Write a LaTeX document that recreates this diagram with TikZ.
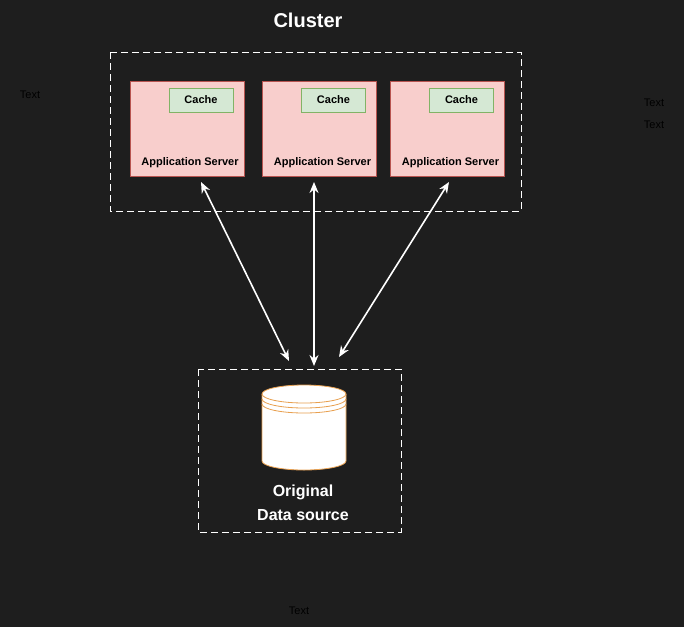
\documentclass[tikz,border=0pt]{standalone}
\usepackage{fontspec}
\setmainfont{Liberation Sans}
\usetikzlibrary{arrows.meta}
\definecolor{bgdark}{RGB}{30,30,30}
\definecolor{srvfill}{HTML}{F8CECC}
\definecolor{srvline}{HTML}{B85450}
\definecolor{cachefill}{HTML}{D5E8D4}
\definecolor{cacheline}{HTML}{82B366}
\definecolor{dborange}{HTML}{E8A050}
\tikzset{
  server/.style={draw=srvline, fill=srvfill, minimum width=114pt, minimum height=95pt},
  cache/.style={draw=cacheline, fill=cachefill, minimum width=64pt, minimum height=24pt,
    font=\bfseries\fontsize{11}{13}\selectfont},
  srvlabel/.style={font=\bfseries\fontsize{11}{13}\selectfont},
  group/.style={draw=white, dash pattern=on 7pt off 4pt, line width=1pt},
  link/.style={white, line width=1.6pt, {Stealth[length=11pt,width=9pt]}-{Stealth[length=11pt,width=9pt]}},
  note/.style={black, font=\fontsize{11}{13}\selectfont}
}
\begin{document}
\begin{tikzpicture}[x=1pt, y=-1pt]
  \fill[bgdark] (0,0) rectangle (684,627);
  \useasboundingbox (0,0) rectangle (684,627);

  \node[white, font=\bfseries\fontsize{20}{24}\selectfont] (title) at (308,20) {Cluster};
  \draw[group] (110,52) rectangle (521,211);

  % servers with caches
  \foreach \n/\x in {1/187, 2/319.5, 3/447.5} {
    \node[server] (srv\n) at (\x,128.5) {};
    \node[cache] (cache\n) at (\x+14,100) {Cache};
    \node[srvlabel] (lbl\n) at (\x+3,163) {Application Server};
  }

  % data source
  \draw[group] (198,369) rectangle (401,532);
  \draw[dborange, fill=white, line width=0.8pt] (262,394)
    arc[start angle=180, end angle=0, x radius=42pt, y radius=9pt] -- (346,461)
    arc[start angle=0, end angle=-180, x radius=42pt, y radius=9pt] -- cycle;
  \draw[dborange, line width=0.8pt] (262,394) arc[start angle=180, end angle=360, x radius=42pt, y radius=9pt];
  \draw[dborange, line width=0.8pt] (262,399) arc[start angle=180, end angle=360, x radius=42pt, y radius=9pt];
  \draw[dborange, line width=0.8pt] (262,404) arc[start angle=180, end angle=360, x radius=42pt, y radius=9pt];
  \node[white, align=center, font=\bfseries\fontsize{16}{24}\selectfont] (dblbl) at (303,503) {Original\\Data source};

  \coordinate (dbA) at (289,361);
  \coordinate (dbB) at (314,366);
  \coordinate (dbC) at (339,357);
  \coordinate (sA) at (201,182);
  \coordinate (sB) at (314,182);
  \coordinate (sC) at (449,182);
  \draw[link] (sA) -- (dbA);
  \draw[link] (sB) -- (dbB);
  \draw[link] (sC) -- (dbC);

  \node[note] (t1) at (30,95) {Text};
  \node[note] (t2) at (654,103) {Text};
  \node[note] (t3) at (654,125) {Text};
  \node[note] (t4) at (299,611) {Text};
\end{tikzpicture}
\end{document}
